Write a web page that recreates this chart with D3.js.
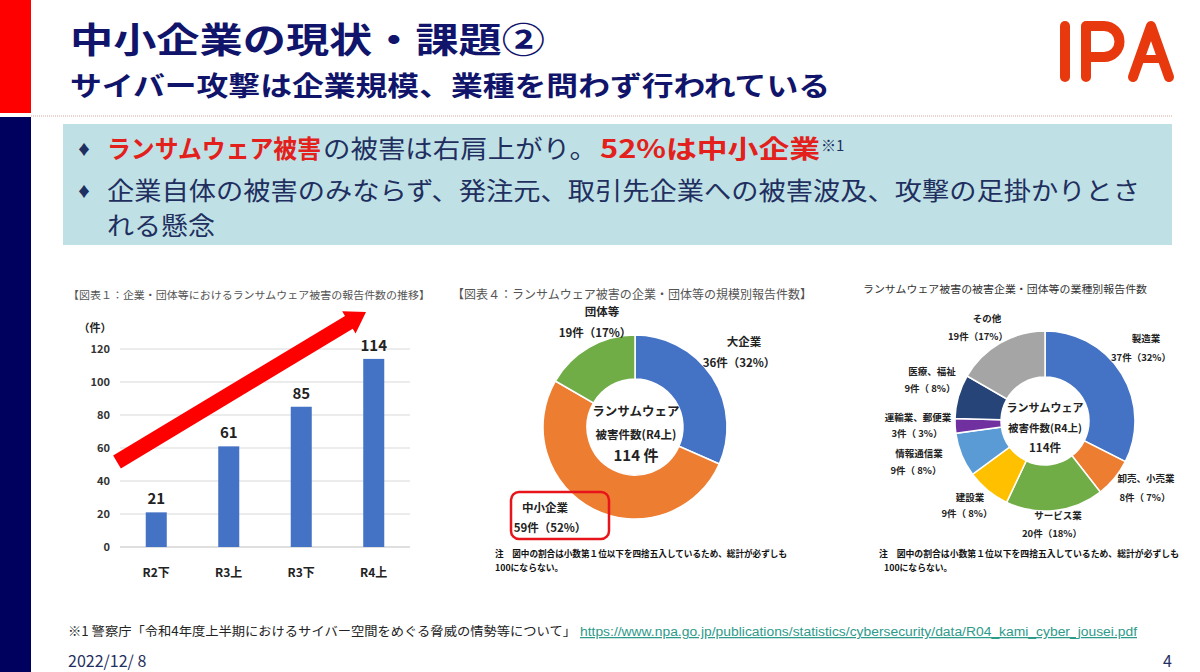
<!DOCTYPE html>
<html><head><meta charset="utf-8">
<script src="https://cdn.jsdelivr.net/npm/d3@7"></script>
<style>html,body{margin:0;padding:0;background:#fff;overflow:hidden}</style>
</head><body><div id="slide"></div>
<script>
// data
const barCats = ["R2下", "R3上", "R3下", "R4上"];
const barVals = [21, 61, 85, 114];
const yTicks = [0, 20, 40, 60, 80, 100, 120];

const sizeCats = ["大企業", "中小企業", "団体等"];
const sizeVals = [36, 59, 19];
const sizePct = ["32%", "52%", "17%"];

const indCats = ["製造業", "卸売、小売業", "サービス業", "建設業", "情報通信業", "運輸業、郵便業", "医療、福祉", "その他"];
const indVals = [37, 8, 20, 9, 9, 3, 9, 19];
const indPct = ["32%", "7%", "18%", "8%", "8%", "3%", "8%", "17%"];

const JP = "'Noto Sans CJK JP', 'Noto Sans', sans-serif";
const NAVY = "#10146a";
const RED = "#e3201b";

const svg = d3.select("#slide").append("svg")
  .attr("width", 1200).attr("height", 672)
  .style("display", "block").style("font-family", JP);

// side strips
svg.append("rect").attr("x", 0).attr("y", 0).attr("width", 31).attr("height", 113).attr("fill", "#ff0000");
svg.append("rect").attr("x", 0).attr("y", 117).attr("width", 31).attr("height", 555).attr("fill", "#00005e");

// header
svg.append("text").attr("x", 70).attr("y", 53)
  .attr("fill", NAVY).style("font-size", "35px").style("font-weight", 700)
  .attr("textLength", 475).attr("lengthAdjust", "spacingAndGlyphs")
  .text("中小企業の現状・課題②");
svg.append("text").attr("x", 70).attr("y", 96)
  .attr("fill", NAVY).style("font-size", "27px").style("font-weight", 700)
  .attr("textLength", 760).attr("lengthAdjust", "spacingAndGlyphs")
  .text("サイバー攻撃は企業規模、業種を問わず行われている");

svg.append("line").attr("x1", 31).attr("x2", 1172).attr("y1", 116).attr("y2", 116)
  .attr("stroke", "#d8a8a0").attr("stroke-width", 1).attr("stroke-dasharray", "1,1");

// IPA logo
const logo = svg.append("g").attr("fill", "none").attr("stroke", "#e8390e")
  .attr("stroke-width", 10).attr("stroke-linecap", "round").attr("stroke-linejoin", "round");
logo.append("path").attr("d", "M1065,26 L1065,77");
logo.append("path").attr("d", "M1086,77 L1086,26 L1104,26 A15.5,15.5 0 0 1 1104,57 L1086,57");
logo.append("path").attr("d", "M1133,77 L1151,26 L1169,77");
logo.append("path").attr("d", "M1142,59 L1160,59").attr("stroke-width", 8);

// bullet box
svg.append("rect").attr("x", 63).attr("y", 124).attr("width", 1109).attr("height", 121).attr("fill", "#bfe1e5");

const bul = svg.append("g").style("font-size", "25px");
[149, 191].forEach(cy => bul.append("text").attr("x", 77).attr("y", cy + 5)
  .attr("fill", "#1f2f60").style("font-size", "14px").text("♦"));

const l1 = bul.append("text").attr("y", 158);
l1.append("tspan").attr("x", 107).attr("fill", RED).style("font-weight", 700)
  .attr("textLength", 214).attr("lengthAdjust", "spacingAndGlyphs").text("ランサムウェア被害");
l1.append("tspan").attr("x", 323).attr("fill", "#1f2f60")
  .attr("textLength", 274).attr("lengthAdjust", "spacingAndGlyphs").text("の被害は右肩上がり。");
l1.append("tspan").attr("x", 600).attr("fill", RED).style("font-weight", 700)
  .attr("textLength", 220).attr("lengthAdjust", "spacingAndGlyphs").text("52%は中小企業");
l1.append("tspan").attr("x", 821).attr("y", 151).attr("fill", "#1f2f60").style("font-size", "15px")
  .text("※1");

bul.append("text").attr("x", 107).attr("y", 200).attr("fill", "#1f2f60")
  .attr("textLength", 1033).attr("lengthAdjust", "spacingAndGlyphs")
  .text("企業自体の被害のみならず、発注元、取引先企業への被害波及、攻撃の足掛かりとさ");
bul.append("text").attr("x", 107).attr("y", 235).attr("fill", "#1f2f60")
  .attr("textLength", 108).attr("lengthAdjust", "spacingAndGlyphs")
  .text("れる懸念");

// ---------- bar chart ----------
svg.append("text").attr("x", 68).attr("y", 299).attr("fill", "#555")
  .style("font-size", "10.5px").attr("textLength", 362).attr("lengthAdjust", "spacingAndGlyphs")
  .text("【図表１：企業・団体等におけるランサムウェア被害の報告件数の推移】");

const x = d3.scaleBand().domain(barCats).range([120, 410]).paddingInner(0.71).paddingOuter(0.355);
const y = d3.scaleLinear().domain([0, 120]).range([547, 349]);

const bc = svg.append("g");
bc.selectAll("line.grid").data(yTicks).join("line")
  .attr("x1", 120).attr("x2", 410).attr("y1", d => y(d)).attr("y2", d => y(d))
  .attr("stroke", d => d === 0 ? "#bfbfbf" : "#d9d9d9").attr("stroke-width", 1);
bc.selectAll("text.yt").data(yTicks).join("text")
  .attr("x", 110).attr("y", d => y(d) + 4).attr("text-anchor", "end")
  .attr("fill", "#333").style("font-size", "11px").style("font-weight", 700)
  .text(d => d);
bc.append("text").attr("x", 95).attr("y", 332).attr("text-anchor", "middle")
  .attr("fill", "#222").style("font-size", "11px").style("font-weight", 700).text("（件）");

bc.selectAll("rect.bar").data(barVals).join("rect")
  .attr("x", (d, i) => x(barCats[i])).attr("width", x.bandwidth())
  .attr("y", d => y(d)).attr("height", d => y(0) - y(d))
  .attr("fill", "#4472c4");
bc.selectAll("text.val").data(barVals).join("text")
  .attr("x", (d, i) => x(barCats[i]) + x.bandwidth() / 2).attr("y", d => y(d) - 8)
  .attr("text-anchor", "middle").attr("fill", "#222")
  .style("font-size", "15px").style("font-weight", 700).text(d => d);
bc.selectAll("text.cat").data(barCats).join("text")
  .attr("x", d => x(d) + x.bandwidth() / 2).attr("y", 577)
  .attr("text-anchor", "middle").attr("fill", "#222")
  .style("font-size", "12px").style("font-weight", 700).text(d => d);

// trend arrow
const ax0 = 117, ay0 = 462, ax1 = 366, ay1 = 312;
const aLen = Math.hypot(ax1 - ax0, ay1 - ay0);
const aAng = Math.atan2(ay1 - ay0, ax1 - ax0) * 180 / Math.PI;
const hl = 20, sw = 7.5, hw = 13;
svg.append("path")
  .attr("transform", `translate(${ax0},${ay0}) rotate(${aAng})`)
  .attr("d", `M0,${-sw} L${aLen - hl},${-sw} L${aLen - hl},${-hw} L${aLen},0 L${aLen - hl},${hw} L${aLen - hl},${sw} L0,${sw} Z`)
  .attr("fill", "#ff0000");

// ---------- donut helper ----------
function donut(cx, cy, rIn, rOut, vals, colors) {
  const pie = d3.pie().sort(null).value(d => d);
  const arc = d3.arc().innerRadius(rIn).outerRadius(rOut);
  svg.append("g").attr("transform", `translate(${cx},${cy})`)
    .selectAll("path").data(pie(vals)).join("path")
    .attr("d", arc).attr("fill", (d, i) => colors[i])
    .attr("stroke", "#fff").attr("stroke-width", 1.5);
}

// ---------- donut 1: by size ----------
svg.append("text").attr("x", 452).attr("y", 299).attr("fill", "#555")
  .style("font-size", "12px").attr("textLength", 360).attr("lengthAdjust", "spacingAndGlyphs")
  .text("【図表４：ランサムウェア被害の企業・団体等の規模別報告件数】");

donut(635, 427, 48, 92, sizeVals, ["#4472c4", "#ed7d31", "#70ad47"]);

const sizeNamePos = [[744, 346], [545, 512], [602, 316]];
const sizeValPos = [[739, 367], [550, 532], [595, 337]];
const d1 = svg.append("g").attr("fill", "#222").style("font-weight", 700).attr("text-anchor", "middle");
d1.selectAll("text.n").data(sizeCats).join("text")
  .attr("x", (d, i) => sizeNamePos[i][0]).attr("y", (d, i) => sizeNamePos[i][1])
  .style("font-size", "11.5px").text(d => d);
d1.selectAll("text.v").data(sizeVals).join("text")
  .attr("x", (d, i) => sizeValPos[i][0]).attr("y", (d, i) => sizeValPos[i][1])
  .style("font-size", "11.5px").text((d, i) => `${d}件（${sizePct[i]}）`);
d1.append("text").attr("x", 636).attr("y", 416).style("font-size", "12.5px").text("ランサムウェア");
d1.append("text").attr("x", 636).attr("y", 439).style("font-size", "11.5px").text("被害件数(R4上)");
d1.append("text").attr("x", 636).attr("y", 461).style("font-size", "15px")
  .text(`${d3.sum(sizeVals)} 件`);

svg.append("rect").attr("x", 511).attr("y", 492).attr("width", 98).attr("height", 47).attr("rx", 8)
  .attr("fill", "none").attr("stroke", "#e8141b").attr("stroke-width", 2.5);

const note1 = svg.append("g").attr("fill", "#111").style("font-weight", 700).style("font-size", "8.8px");
note1.append("text").attr("x", 495).attr("y", 557).attr("textLength", 292).attr("lengthAdjust", "spacingAndGlyphs")
  .text("注　図中の割合は小数第１位以下を四捨五入しているため、総計が必ずしも");
note1.append("text").attr("x", 495).attr("y", 571).text("100にならない。");

// ---------- donut 2: by industry ----------
svg.append("text").attr("x", 863).attr("y", 293).attr("fill", "#333")
  .style("font-size", "10.5px").attr("textLength", 284).attr("lengthAdjust", "spacingAndGlyphs")
  .text("ランサムウェア被害の被害企業・団体等の業種別報告件数");

donut(1045, 421, 44, 90, indVals,
  ["#4472c4", "#ed7d31", "#70ad47", "#ffc000", "#5b9bd5", "#7030a0", "#264478", "#a5a5a5"]);

const indNamePos = [[1146, 342], [1146, 482], [1058, 519], [970, 501], [919, 457], [918, 421], [932, 375], [987, 322]];
const indValPos = [[1141, 361], [1145, 501], [1052, 537], [967, 517], [916, 474], [917, 437], [930, 392], [978, 340]];
const d2 = svg.append("g").attr("fill", "#222").style("font-weight", 700).attr("text-anchor", "middle")
  .style("font-size", "9.5px");
d2.selectAll("text.n").data(indCats).join("text")
  .attr("x", (d, i) => indNamePos[i][0]).attr("y", (d, i) => indNamePos[i][1]).text(d => d);
d2.selectAll("text.v").data(indVals).join("text")
  .attr("x", (d, i) => indValPos[i][0]).attr("y", (d, i) => indValPos[i][1])
  .text((d, i) => `${d}件（${indPct[i].length < 3 ? " " : ""}${indPct[i]}）`);
d2.append("text").attr("x", 1045).attr("y", 412).style("font-size", "11px").text("ランサムウェア");
d2.append("text").attr("x", 1045).attr("y", 432).style("font-size", "10.5px").text("被害件数(R4上)");
d2.append("text").attr("x", 1045).attr("y", 452).style("font-size", "11.5px")
  .text(`${d3.sum(indVals)}件`);

const note2 = svg.append("g").attr("fill", "#111").style("font-weight", 700).style("font-size", "8.8px");
note2.append("text").attr("x", 879).attr("y", 557).attr("textLength", 300).attr("lengthAdjust", "spacingAndGlyphs")
  .text("注　図中の割合は小数第１位以下を四捨五入しているため、総計が必ずしも");
note2.append("text").attr("x", 884).attr("y", 571).text("100にならない。");

// ---------- footer ----------
svg.append("text").attr("x", 68).attr("y", 636).attr("fill", "#222").style("font-size", "12.5px")
  .attr("textLength", 508).attr("lengthAdjust", "spacingAndGlyphs")
  .text("※1  警察庁「令和4年度上半期におけるサイバー空間をめぐる脅威の情勢等について」");
svg.append("text").attr("x", 580).attr("y", 636).attr("fill", "#2e9a8a")
  .style("font-family", "'Liberation Sans', Arial, sans-serif").style("font-size", "12.5px")
  .style("text-decoration", "underline")
  .attr("textLength", 557).attr("lengthAdjust", "spacingAndGlyphs")
  .text("https://www.npa.go.jp/publications/statistics/cybersecurity/data/R04_kami_cyber_jousei.pdf");
svg.append("text").attr("x", 68).attr("y", 667).attr("fill", "#1f2f60").style("font-size", "16px")
  .text("2022/12/ 8");
svg.append("text").attr("x", 1172).attr("y", 667).attr("text-anchor", "end").attr("fill", "#1f2f60")
  .style("font-size", "16px").text("4");
</script></body></html>
